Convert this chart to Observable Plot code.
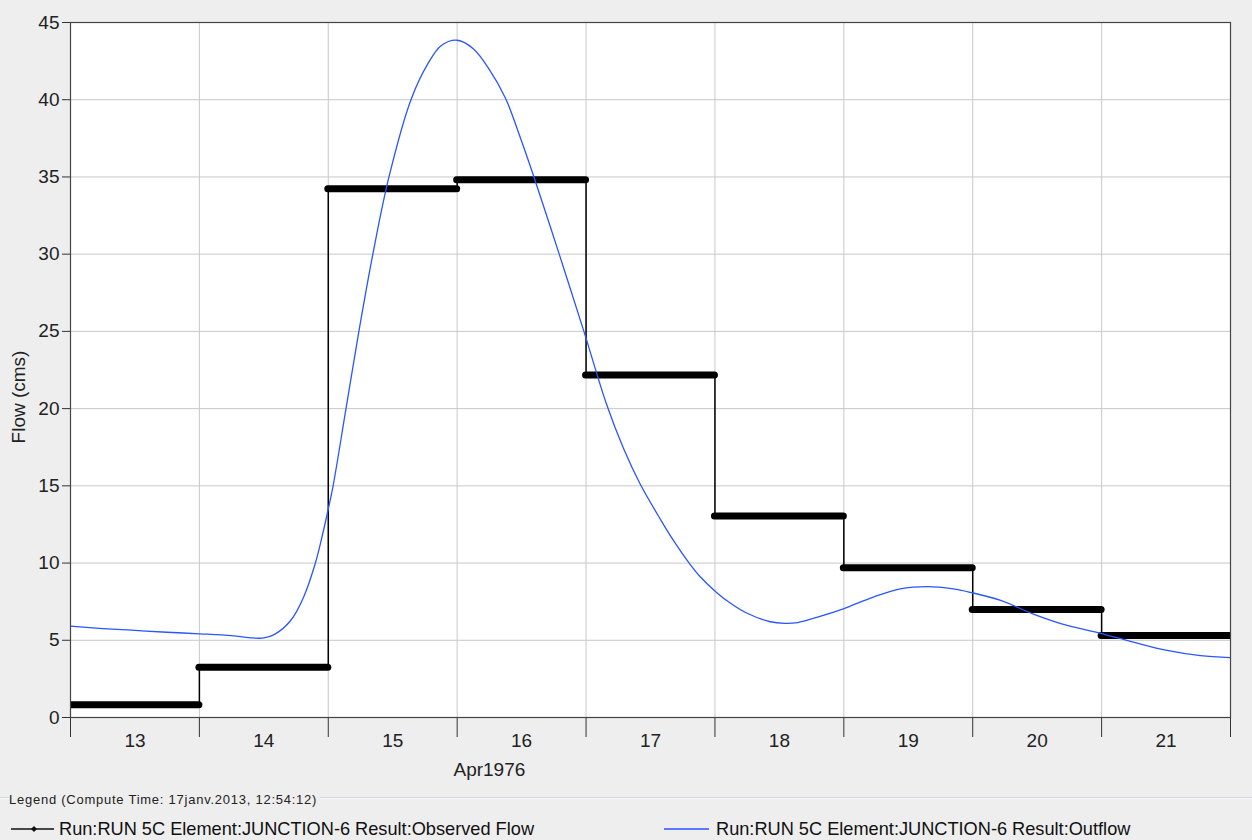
<!DOCTYPE html>
<html>
<head>
<meta charset="utf-8">
<script src="https://cdn.jsdelivr.net/npm/d3@7"></script>
<script src="https://cdn.jsdelivr.net/npm/@observablehq/plot@0.6"></script>
<style>
  html, body { margin: 0; padding: 0; background: #eeeeee; }
  body { width: 1252px; height: 840px; position: relative; overflow: hidden;
         font-family: "Liberation Sans", Arial, sans-serif; }
  #chart { position: absolute; left: 0; top: 0; }
  #legend-sep { position: absolute; left: 0; top: 797px; width: 1252px; height: 0;
                border-top: 1px solid #cfd6de; border-bottom: 1px solid #fafafa; }
  #legend-title { position: absolute; left: 9px; top: 792px; font-size: 13px; letter-spacing: 0.75px; color: #222;
                  background: #eeeeee; padding-right: 3px; line-height: 15px; }
  .item { position: absolute; top: 819px; height: 20px; display: flex; align-items: center;
          font-size: 18.2px; color: #111; white-space: nowrap; }
  .item svg { margin-right: 3px; }
</style>
</head>
<body>
<div id="chart"></div>
<div id="legend-sep"></div>
<div id="legend-title">Legend (Compute Time: 17janv.2013, 12:54:12)</div>
<div class="item" style="left:10px">
  <svg width="46" height="12"><line x1="1" y1="6" x2="44" y2="6" stroke="#111" stroke-width="1.5"/><path d="M24,3 L27,6 L24,9 L21,6 Z" fill="#111"/></svg>
  <span>Run:RUN 5C Element:JUNCTION-6 Result:Observed Flow</span>
</div>
<div class="item" style="left:663px">
  <svg width="50" height="12"><line x1="1" y1="6" x2="46" y2="6" stroke="#2a55ff" stroke-width="1.5"/></svg>
  <span>Run:RUN 5C Element:JUNCTION-6 Result:Outflow</span>
</div>
<script>
// ---- data ----
const observedDays = ["1976-04-13","1976-04-14","1976-04-15","1976-04-16","1976-04-17","1976-04-18","1976-04-19","1976-04-20","1976-04-21"];
const observedValues = [0.82, 3.26, 34.23, 34.82, 22.17, 13.05, 9.69, 6.99, 5.31];
const dayLabels = ["13","14","15","16","17","18","19","20","21"];
const yTicks = [0, 5, 10, 15, 20, 25, 30, 35, 40, 45];
// outflow: hours since 1976-04-13 00:00
const outflowHours = [0, 6, 12, 18, 24, 30, 34, 36, 38, 41, 43.4, 45.6, 46.9, 48, 48.9, 51.3, 53.7, 56.3, 59.3, 63.4, 66.5, 69, 72, 75, 78, 81, 83.5, 86.3, 91.0, 95.6, 99.8, 103, 106.1, 109.9, 112.3, 115.3, 117.3, 120.3, 122.9, 126.0, 130.3, 133, 135.4, 139.1, 143.9, 149.5, 154.5, 159.6, 164.4, 167.6, 173.2, 179.3, 185.6, 191.8, 197.9, 204.2, 210.4, 216];
const outflowValues = [5.91, 5.76, 5.64, 5.52, 5.42, 5.30, 5.15, 5.15, 5.38, 6.28, 7.79, 10.0, 11.8, 13.5, 15.0, 20.0, 25.0, 30.0, 35.0, 40.0, 42.3, 43.5, 43.85, 43.3, 41.95, 40.1, 37.8, 35.0, 30.0, 25.0, 20.3, 17.4, 15.1, 12.8, 11.45, 9.95, 9.1, 8.1, 7.4, 6.75, 6.2, 6.1, 6.15, 6.5, 7.04, 7.8, 8.33, 8.48, 8.33, 8.1, 7.58, 6.7, 5.96, 5.45, 4.88, 4.34, 4.0, 3.87];
const xLabel = "Apr1976";
const yLabel = "Flow (cms)";

// ---- build ----
const DAY = 86400e3;
const start = new Date("1976-04-13T00:00:00Z");
const end = new Date("1976-04-22T00:00:00Z");
const atHour = h => new Date(start.getTime() + h * 3600e3);
const dayStart = observedDays.map(d => new Date(d + "T00:00:00Z"));
const boundaries = [...dayStart, end];
const noons = dayStart.map(d => new Date(d.getTime() + DAY / 2));
const obs = observedDays.map((d, i) => ({x1: dayStart[i], x2: new Date(dayStart[i].getTime() + DAY), y: observedValues[i]}));
const stepData = [...obs.map(o => ({x: o.x1, y: o.y})), {x: end, y: observedValues[observedValues.length - 1]}];
const outflow = outflowHours.map((h, i) => ({x: atHour(h), y: outflowValues[i]}));

const chart = Plot.plot({
  width: 1252, height: 785,
  marginLeft: 70, marginRight: 22, marginTop: 22, marginBottom: 68,
  style: {background: "transparent", fontFamily: "'Liberation Sans', Arial, sans-serif", fontSize: "19px", color: "#222", overflow: "visible"},
  x: {type: "utc", domain: [start, end]},
  y: {domain: [0, 45]},
  marks: [
    Plot.frame({fill: "white"}),
    Plot.gridY(yTicks, {stroke: "#c8c8c8", strokeOpacity: 1, strokeWidth: 1}),
    Plot.gridX(boundaries, {stroke: "#c8c8c8", strokeOpacity: 1, strokeWidth: 1}),
    Plot.axisY(yTicks, {tickSize: 8, tickPadding: 3, label: null, fontSize: 19, stroke: "#333"}),
    Plot.axisX(boundaries, {tickSize: 20, tickFormat: () => "", label: null, stroke: "#333"}),
    Plot.text(dayLabels, {x: (d, i) => noons[i], frameAnchor: "bottom", dy: 29, fontSize: 19, fill: "#222"}),
    Plot.text([xLabel], {x: () => atHour(78), frameAnchor: "bottom", dy: 58, fontSize: 19, fill: "#222"}),
    Plot.text([yLabel], {frameAnchor: "left", textAnchor: "middle", rotate: -90, dx: -52, dy: 27, fontSize: 19, fill: "#222"}),
    Plot.line(stepData, {x: "x", y: "y", curve: "step-after", stroke: "#000", strokeWidth: 1.5, clip: true}),
    Plot.ruleY(obs, {x1: "x1", x2: "x2", y: "y", stroke: "#000", strokeWidth: 7, strokeLinecap: "round", clip: true}),
    Plot.line(outflow, {x: "x", y: "y", curve: "catmull-rom", stroke: "#2a55ff", strokeWidth: 1.3, clip: true}),
    Plot.frame({stroke: "#444", strokeWidth: 1.2})
  ]
});
document.getElementById("chart").appendChild(chart);
</script>
</body>
</html>
